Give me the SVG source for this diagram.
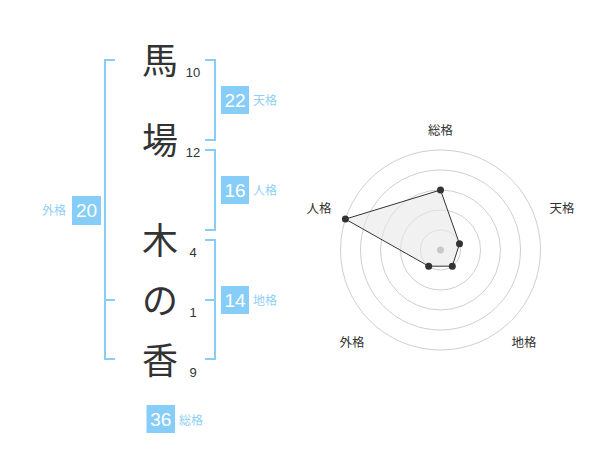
<svg xmlns="http://www.w3.org/2000/svg" width="600" height="470" viewBox="0 0 600 470">
<style>
.kanji{font-family:"Noto Sans CJK JP","Noto Sans CJK SC",sans-serif;font-size:36px;fill:#333;text-anchor:middle}
.num{font-family:"Liberation Sans",Arial,sans-serif;font-size:13px;fill:#333;text-anchor:middle}
.br{fill:none;stroke:#86cdf8;stroke-width:2}
.box{fill:#86cdf8}
.bv{font-family:"Liberation Sans",Arial,sans-serif;font-size:19px;fill:#fff;text-anchor:middle}
.bl{font-family:"Noto Sans CJK JP","Noto Sans CJK SC",sans-serif;font-size:12px;fill:#8fd0f7}
.grid{fill:none;stroke:#cfcfcf;stroke-width:1}
.rl{font-family:"Noto Sans CJK JP","Noto Sans CJK SC",sans-serif;font-size:12.5px;fill:#333;text-anchor:middle}
.pt{fill:#333}
</style>
<rect width="600" height="470" fill="#fff"/>
<g id="name">
<g id="c1"><text class="kanji" x="160" y="74">馬</text><text class="num" x="193" y="77">10</text></g>
<g id="c2"><text class="kanji" x="160" y="154">場</text><text class="num" x="193" y="157">12</text></g>
<g id="c3"><text class="kanji" x="160" y="254">木</text><text class="num" x="193" y="257">4</text></g>
<g id="c4"><text class="kanji" x="160" y="314">の</text><text class="num" x="193" y="317">1</text></g>
<g id="c5"><text class="kanji" x="160" y="374">香</text><text class="num" x="193" y="377">9</text></g>
</g>
<g id="brackets">
<path class="br" d="M115,60 H105 V359 H115 M105,300 H115"/>
<path class="br" d="M205,60 H215 V140 H205"/>
<path class="br" d="M205,150 H215 V230 H205"/>
<path class="br" d="M205,240 H215 V359 H205 M215,300 H205"/>
</g>
<g id="tenkaku"><rect class="box" x="221" y="86" width="28" height="28"/><text class="bv" x="235" y="107">22</text><text class="bl" x="253" y="105">天格</text></g>
<g id="jinkaku"><rect class="box" x="221" y="176" width="28" height="28"/><text class="bv" x="235" y="197">16</text><text class="bl" x="253" y="195">人格</text></g>
<g id="chikaku"><rect class="box" x="221" y="286" width="28" height="28"/><text class="bv" x="235" y="307">14</text><text class="bl" x="253" y="305">地格</text></g>
<g id="gaikaku"><rect class="box" x="72" y="196" width="29" height="29"/><text class="bv" x="86.5" y="217">20</text><text class="bl" x="66" y="215" text-anchor="end">外格</text></g>
<g id="soukaku"><rect class="box" x="146.5" y="405" width="28.5" height="28"/><text class="bv" x="160.7" y="426">36</text><text class="bl" x="179" y="425">総格</text></g>
<g id="radar">
<circle class="grid" cx="440.5" cy="250" r="20"/>
<circle class="grid" cx="440.5" cy="250" r="40"/>
<circle class="grid" cx="440.5" cy="250" r="60"/>
<circle class="grid" cx="440.5" cy="250" r="80"/>
<circle class="grid" cx="440.5" cy="250" r="100"/>
<polygon points="440.5,190 459.5,243.8 452.3,266.2 428.7,266.2 345.4,219.1" fill="#e8e8e8" fill-opacity="0.6" stroke="#333" stroke-width="1"/>
<circle cx="440.5" cy="250" r="3.5" fill="#c8c8c8"/>
<circle class="pt" cx="440.5" cy="190" r="3.5"/>
<circle class="pt" cx="459.5" cy="243.8" r="3.5"/>
<circle class="pt" cx="452.3" cy="266.2" r="3.5"/>
<circle class="pt" cx="428.7" cy="266.2" r="3.5"/>
<circle class="pt" cx="345.4" cy="219.1" r="3.5"/>
<text class="rl" x="440.5" y="135">総格</text>
<text class="rl" x="562" y="213">天格</text>
<text class="rl" x="524" y="347">地格</text>
<text class="rl" x="352" y="347">外格</text>
<text class="rl" x="319" y="213">人格</text>
</g>
</svg>
